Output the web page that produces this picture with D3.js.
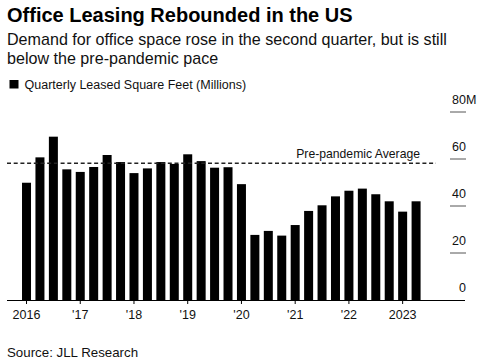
<!DOCTYPE html>
<html>
<head>
<meta charset="utf-8">
<script src="https://cdn.jsdelivr.net/npm/d3@7"></script>
<style>
  html, body { margin: 0; padding: 0; background: #fff; }
  svg { display: block; font-family: "Liberation Sans", Arial, Helvetica, sans-serif; }
</style>
</head>
<body>
<svg id="chart" width="485" height="364"></svg>
<script>
const categories = [
  "2016 Q1","2016 Q2","2016 Q3","2016 Q4",
  "2017 Q1","2017 Q2","2017 Q3","2017 Q4",
  "2018 Q1","2018 Q2","2018 Q3","2018 Q4",
  "2019 Q1","2019 Q2","2019 Q3","2019 Q4",
  "2020 Q1","2020 Q2","2020 Q3","2020 Q4",
  "2021 Q1","2021 Q2","2021 Q3","2021 Q4",
  "2022 Q1","2022 Q2","2022 Q3","2022 Q4",
  "2023 Q1","2023 Q2"
];
const leasedSqFt = [
  49.9, 60.7, 69.5, 55.6,
  54.5, 56.6, 61.7, 58.7,
  54.0, 56.0, 58.7, 57.9,
  62.0, 59.1, 56.3, 56.5,
  49.3, 27.7, 29.4, 27.4,
  31.9, 37.9, 40.3, 44.1,
  46.5, 47.4, 45.0, 42.0,
  37.6, 42.0
];
const prePandemicAverage = 58.2;
const xTickCategories = ["2016 Q1","2017 Q1","2018 Q1","2019 Q1","2020 Q1","2021 Q1","2022 Q1","2023 Q1"];
const xTickLabels = ["2016","'17","'18","'19","'20","'21","'22","2023"];
const yTickValues = [0, 20, 40, 60, 80];
const yTickLabels = ["0", "20", "40", "60", "80"];

const title = "Office Leasing Rebounded in the US";
const subtitleLines = ["Demand for office space rose in the second quarter, but is still", "below the pre-pandemic pace"];
const legendLabel = "Quarterly Leased Square Feet (Millions)";
const source = "Source: JLL Research";

const svg = d3.select("#chart");

const x = d3.scaleBand()
  .domain(categories)
  .range([19.8, 422.8])
  .paddingInner(0.33)
  .paddingOuter(0.165);

const y = d3.scaleLinear().domain([0, 80]).range([300, 112]);

// Title & subtitle
svg.append("text").attr("x", 7).attr("y", 22)
  .attr("font-size", 20).attr("font-weight", "bold").attr("fill", "#000")
  .text(title);
subtitleLines.forEach((s, i) => {
  svg.append("text").attr("x", 7).attr("y", 45 + i * 18.5)
    .attr("font-size", 16.1).attr("fill", "#111")
    .text(s);
});

// Legend
svg.append("rect").attr("x", 9.5).attr("y", 80).attr("width", 9).attr("height", 8.5).attr("fill", "#000");
svg.append("text").attr("x", 24.5).attr("y", 88.5)
  .attr("font-size", 12.5).attr("fill", "#111")
  .text(legendLabel);

// Y ticks (right side)
const yAxisG = svg.append("g");
yTickValues.forEach((v, i) => {
  if (v !== 0) {
    yAxisG.append("line")
      .attr("x1", 450).attr("x2", 466)
      .attr("y1", y(v)).attr("y2", y(v))
      .attr("stroke", "#555").attr("stroke-width", 1);
  }
  yAxisG.append("text")
    .attr("x", 466).attr("y", y(v) - 8.5)
    .attr("font-size", 12.5).attr("fill", "#111")
    .attr("text-anchor", "end")
    .text(yTickLabels[i]);
  if (v === 80) {
    yAxisG.append("text")
      .attr("x", 466).attr("y", y(v) - 8.5)
      .attr("font-size", 12.5).attr("fill", "#111")
      .text("M");
  }
});

// Bars
svg.append("g").selectAll("rect")
  .data(categories)
  .join("rect")
  .attr("x", d => x(d))
  .attr("width", x.bandwidth())
  .attr("y", (d, i) => y(leasedSqFt[i]))
  .attr("height", (d, i) => y(0) - y(leasedSqFt[i]))
  .attr("fill", "#000");

// Pre-pandemic average dashed line
svg.append("line")
  .attr("x1", 7).attr("x2", 436)
  .attr("y1", y(prePandemicAverage)).attr("y2", y(prePandemicAverage))
  .attr("stroke", "#222").attr("stroke-width", 1.6)
  .attr("stroke-dasharray", "4,2.7");
svg.append("text")
  .attr("x", 420).attr("y", y(prePandemicAverage) - 5)
  .attr("text-anchor", "end")
  .attr("font-size", 12.2).attr("fill", "#111")
  .text("Pre-pandemic Average");

// X axis
const xAxis = d3.axisBottom(x)
  .tickValues(xTickCategories)
  .tickFormat((d, i) => xTickLabels[i])
  .tickSize(4)
  .tickSizeOuter(0);
const xg = svg.append("g").attr("transform", "translate(0,300)").call(xAxis);
xg.select(".domain").remove();
xg.selectAll(".tick line").attr("stroke", "#000");
xg.selectAll(".tick text")
  .attr("font-family", "Liberation Sans, Arial, sans-serif")
  .attr("font-size", 12.5).attr("fill", "#111").attr("dy", 0).attr("y", 319 - 300);
svg.append("line")
  .attr("x1", 7).attr("x2", 465)
  .attr("y1", 300.5).attr("y2", 300.5)
  .attr("stroke", "#000").attr("stroke-width", 1);

// Source
svg.append("text").attr("x", 7).attr("y", 357)
  .attr("font-size", 13.3).attr("fill", "#111")
  .text(source);
</script>
</body>
</html>
